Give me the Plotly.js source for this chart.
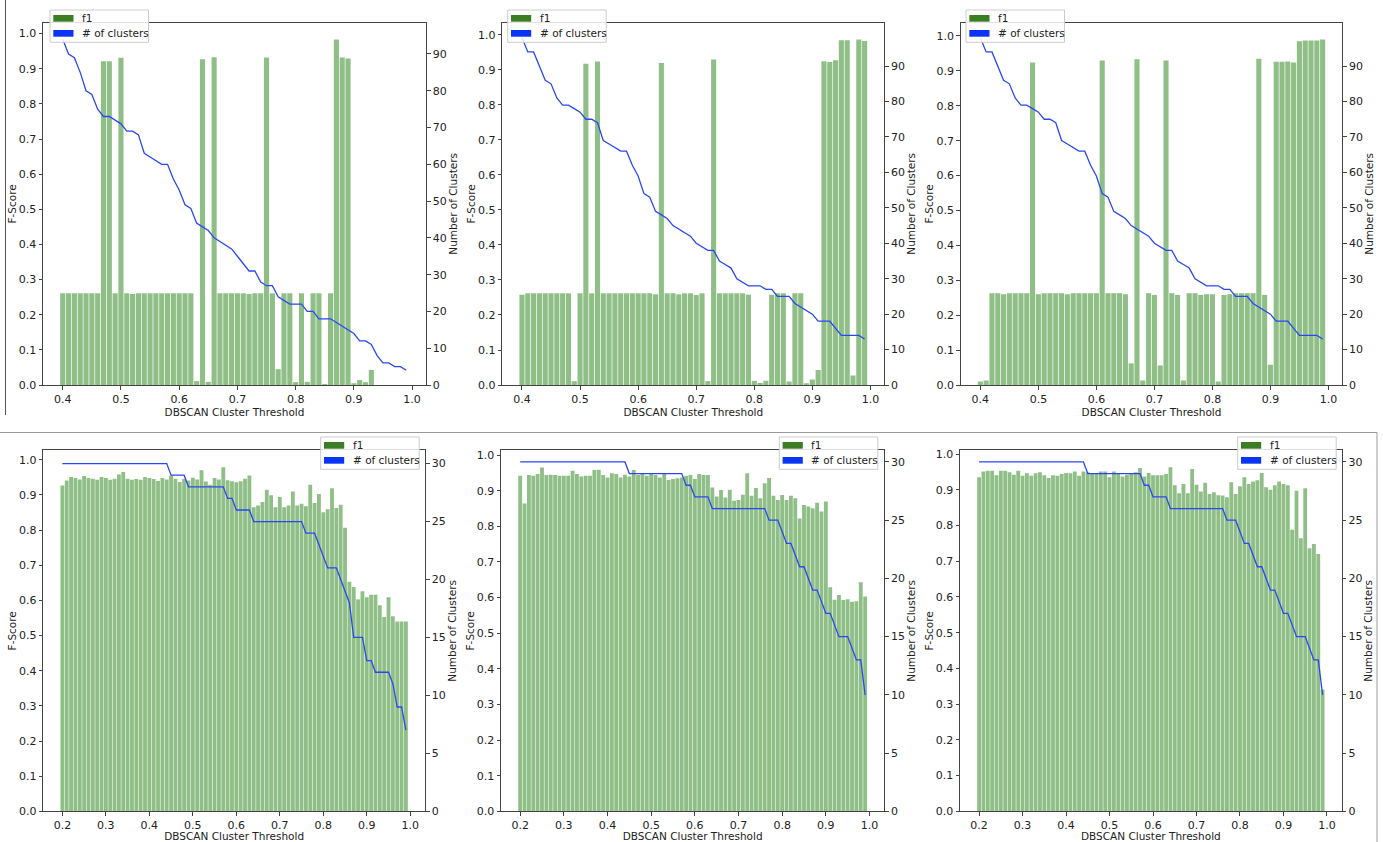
<!DOCTYPE html>
<html><head><meta charset="utf-8">
<script src="https://cdn.plot.ly/plotly-3.0.1.min.js"></script>
<style>html,body{margin:0;padding:0;background:#fff;} #chart{width:1383px;height:842px;}</style>
</head><body><div id="chart"></div>
<script>
// ---------- data ----------
const thresholdsTop = [0.40,0.41,0.42,0.43,0.44,0.45,0.46,0.47,0.48,0.49,0.50,0.51,0.52,0.53,0.54,0.55,0.56,0.57,0.58,0.59,0.60,0.61,0.62,0.63,0.64,0.65,0.66,0.67,0.68,0.69,0.70,0.71,0.72,0.73,0.74,0.75,0.76,0.77,0.78,0.79,0.80,0.81,0.82,0.83,0.84,0.85,0.86,0.87,0.88,0.89,0.90,0.91,0.92,0.93,0.94,0.95,0.96,0.97,0.98,0.99];
const thresholdsBottom = [0.20,0.21,0.22,0.23,0.24,0.25,0.26,0.27,0.28,0.29,0.30,0.31,0.32,0.33,0.34,0.35,0.36,0.37,0.38,0.39,0.40,0.41,0.42,0.43,0.44,0.45,0.46,0.47,0.48,0.49,0.50,0.51,0.52,0.53,0.54,0.55,0.56,0.57,0.58,0.59,0.60,0.61,0.62,0.63,0.64,0.65,0.66,0.67,0.68,0.69,0.70,0.71,0.72,0.73,0.74,0.75,0.76,0.77,0.78,0.79,0.80,0.81,0.82,0.83,0.84,0.85,0.86,0.87,0.88,0.89,0.90,0.91,0.92,0.93,0.94,0.95,0.96,0.97,0.98,0.99];

const f1TopA = [0.261,0.261,0.261,0.261,0.261,0.261,0.261,0.921,0.921,0.261,0.931,0.261,0.259,0.261,0.261,0.261,0.261,0.261,0.261,0.261,0.261,0.261,0.261,0.011,0.927,0.009,0.933,0.261,0.261,0.261,0.261,0.261,0.259,0.261,0.261,0.932,0.261,0.045,0.261,0.261,0.008,0.261,0.009,0.261,0.261,0.003,0.261,0.983,0.932,0.929,0.005,0.014,0.008,0.043,0,0,0,0,0,0];
const f1TopB = [0.258,0.262,0.262,0.262,0.262,0.262,0.262,0.262,0.262,0.011,0.262,0.918,0.262,0.924,0.262,0.262,0.262,0.262,0.262,0.262,0.262,0.262,0.262,0.259,0.920,0.262,0.262,0.259,0.262,0.262,0.257,0.262,0.011,0.930,0.262,0.262,0.262,0.262,0.262,0.258,0.012,0.006,0.012,0.258,0.262,0.262,0.010,0.262,0.262,0.005,0.016,0.043,0.925,0.923,0.928,0.985,0.985,0.027,0.987,0.983];
const f1TopC = [0.010,0.013,0.263,0.263,0.260,0.263,0.263,0.263,0.263,0.924,0.260,0.263,0.263,0.263,0.263,0.260,0.263,0.263,0.263,0.263,0.263,0.930,0.263,0.263,0.263,0.260,0.062,0.933,0.013,0.263,0.258,0.056,0.930,0.263,0.258,0.013,0.263,0.263,0.258,0.260,0.260,0.010,0.258,0.260,0.263,0.263,0.263,0.263,0.935,0.258,0.058,0.926,0.926,0.927,0.924,0.985,0.987,0.987,0.987,0.990];

const clustersTopA = [94,90,89,85,80,79,75,73,73,72,71,69,69,68,63,62,61,60,60,56,53,49,48,44,43,42,40,39,38,37,35,33,31,31,28,27,27,24,23,22,22,22,20,20,18,18,18,17,16,15,14,12,12,11,8,6,6,5,5,4];
const clustersTopB = [98,94,94,90,86,85,81,79,79,78,77,75,75,74,69,68,67,66,66,62,59,54,53,49,48,47,45,44,43,42,40,39,38,38,35,34,33,30,29,28,28,28,27,27,25,25,25,23,22,21,20,18,18,18,16,14,14,14,14,13];
const clustersTopC = [98,94,94,90,86,85,81,79,79,78,77,75,75,74,69,68,67,66,66,62,59,54,53,49,48,47,45,44,43,42,40,39,38,38,35,34,33,30,29,28,28,28,27,27,25,25,25,23,22,21,20,18,18,18,16,14,14,14,14,13];

const f1BotA = [0.927,0.941,0.951,0.948,0.944,0.954,0.948,0.946,0.943,0.951,0.948,0.943,0.946,0.958,0.965,0.946,0.943,0.945,0.943,0.951,0.948,0.945,0.940,0.948,0.944,0.955,0.946,0.937,0.946,0.941,0.949,0.944,0.970,0.938,0.929,0.948,0.944,0.979,0.942,0.939,0.936,0.939,0.946,0.955,0.865,0.870,0.880,0.915,0.899,0.865,0.894,0.865,0.870,0.910,0.870,0.875,0.868,0.929,0.877,0.903,0.851,0.859,0.919,0.863,0.872,0.807,0.653,0.638,0.603,0.626,0.609,0.616,0.616,0.586,0.553,0.609,0.555,0.540,0.540,0.540];
const f1BotB = [0.942,0.864,0.944,0.942,0.947,0.965,0.944,0.945,0.944,0.942,0.942,0.942,0.956,0.947,0.940,0.942,0.942,0.958,0.959,0.944,0.937,0.949,0.947,0.937,0.945,0.940,0.958,0.944,0.949,0.942,0.947,0.944,0.937,0.949,0.930,0.933,0.935,0.937,0.942,0.944,0.933,0.947,0.944,0.944,0.909,0.884,0.902,0.881,0.903,0.872,0.874,0.889,0.949,0.886,0.908,0.879,0.921,0.936,0.886,0.874,0.888,0.874,0.886,0.879,0.822,0.860,0.856,0.851,0.866,0.842,0.870,0.629,0.594,0.607,0.593,0.595,0.588,0.590,0.643,0.603];
const f1BotC = [0.935,0.951,0.953,0.953,0.941,0.953,0.953,0.949,0.942,0.953,0.939,0.946,0.939,0.946,0.949,0.941,0.933,0.941,0.939,0.944,0.947,0.946,0.951,0.939,0.951,0.949,0.947,0.944,0.951,0.951,0.935,0.951,0.944,0.937,0.942,0.947,0.949,0.961,0.937,0.947,0.941,0.941,0.941,0.944,0.963,0.913,0.890,0.916,0.890,0.958,0.914,0.895,0.920,0.888,0.893,0.885,0.884,0.879,0.921,0.888,0.910,0.935,0.916,0.923,0.927,0.947,0.907,0.900,0.913,0.923,0.916,0.913,0.788,0.897,0.764,0.904,0.736,0.748,0.720,0.341];

const clustersBotA = [30,30,30,30,30,30,30,30,30,30,30,30,30,30,30,30,30,30,30,30,30,30,30,30,30,29,29,29,29,28,28,28,28,28,28,28,28,28,27,27,26,26,26,26,25,25,25,25,25,25,25,25,25,25,25,25,24,24,24,23,22,21,21,21,20,19,18,15,15,15,13,13,12,12,12,12,11,9,9,7];
const clustersBotB = [30,30,30,30,30,30,30,30,30,30,30,30,30,30,30,30,30,30,30,30,30,30,30,30,30,29,29,29,29,29,29,29,29,29,29,29,29,29,28,28,27,27,27,27,26,26,26,26,26,26,26,26,26,26,26,26,26,25,25,25,24,23,23,22,21,21,20,19,19,18,17,17,16,15,15,15,14,13,13,10];
const clustersBotC = [30,30,30,30,30,30,30,30,30,30,30,30,30,30,30,30,30,30,30,30,30,30,30,30,30,29,29,29,29,29,29,29,29,29,29,29,29,29,28,28,27,27,27,27,26,26,26,26,26,26,26,26,26,26,26,26,26,25,25,25,24,23,23,22,21,21,20,19,19,18,17,17,16,15,15,15,14,13,13,10];

const xTicksTop = [0.4,0.5,0.6,0.7,0.8,0.9,1.0];
const xTicksBottom = [0.2,0.3,0.4,0.5,0.6,0.7,0.8,0.9,1.0];
const fTicks = [0.0,0.1,0.2,0.3,0.4,0.5,0.6,0.7,0.8,0.9,1.0];
const nTicksTop = [0,10,20,30,40,50,60,70,80,90];
const nTicksBottom = [0,5,10,15,20,25,30];
const legendLabels = ['f1', '# of clusters'];

// ---------- styling / layout ----------
const W = 1383, H = 842;
const BAR = '#8fbf87', LINE = '#2a48f2', LEG_G = '#3b7d23', LEG_B = '#0a35f5';
const AX = '#444', TXT = '#222';

const panels = [
  {x: thresholdsTop, f1: f1TopA, n: clustersTopA, box: [43, 22.7, 426, 385], xr: [0.3661, 1.0239], yl: [0, 1.031], yr: [0, 98.5], xt: xTicksTop, nt: nTicksTop, leg: [50, 10]},
  {x: thresholdsTop, f1: f1TopB, n: clustersTopB, box: [502.3, 22.7, 884.3, 385], xr: [0.3661, 1.0239], yl: [0, 1.035], yr: [0, 102.25], xt: xTicksTop, nt: nTicksTop, leg: [507.7, 10]},
  {x: thresholdsTop, f1: f1TopC, n: clustersTopC, box: [960.7, 22.7, 1342.3, 385], xr: [0.3661, 1.0239], yl: [0, 1.038], yr: [0, 102.25], xt: xTicksTop, nt: nTicksTop, leg: [966, 10]},
  {x: thresholdsBottom, f1: f1BotA, n: clustersBotA, box: [43.3, 450.3, 425, 811.3], xr: [0.1561, 1.0339], yl: [0, 1.027], yr: [0, 31.15], xt: xTicksBottom, nt: nTicksBottom, leg: [320.7, 437]},
  {x: thresholdsBottom, f1: f1BotB, n: clustersBotB, box: [501, 450.3, 884.3, 811.3], xr: [0.1561, 1.0339], yl: [0, 1.0135], yr: [0, 31.0], xt: xTicksBottom, nt: nTicksBottom, leg: [779.3, 437]},
  {x: thresholdsBottom, f1: f1BotC, n: clustersBotC, box: [960, 450.3, 1341.7, 811.3], xr: [0.1561, 1.0339], yl: [0, 1.0105], yr: [0, 31.0], xt: xTicksBottom, nt: nTicksBottom, leg: [1237.7, 437]}
];

const layout = {
  width: W, height: H, margin: {l: 0, r: 0, t: 0, b: 0},
  paper_bgcolor: '#ffffff', plot_bgcolor: 'rgba(0,0,0,0)', showlegend: false,
  font: {family: 'DejaVu Sans, sans-serif', size: 11, color: TXT},
  shapes: [], annotations: []
};
const data = [];
const PX = v => v / W, PY = v => 1 - v / H;

panels.forEach((p, i) => {
  const k = i + 1;
  const xid = k === 1 ? 'x' : 'x' + k;
  const ylNum = 2 * k - 1, yrNum = 2 * k;
  const ylid = ylNum === 1 ? 'y' : 'y' + ylNum;
  const yrid = 'y' + yrNum;
  const [L, T, R, B] = p.box;
  const common = {showgrid: false, zeroline: false, ticks: 'outside', ticklen: 3.5, tickwidth: 1, tickcolor: AX, tickfont: {size: 11, color: TXT}};
  layout[k === 1 ? 'xaxis' : 'xaxis' + k] = Object.assign({}, common, {
    domain: [L / W, R / W], anchor: ylid, range: p.xr, tickvals: p.xt, tickformat: '.1f',
    showline: true, mirror: true, linecolor: AX, linewidth: 1,
    title: {text: 'DBSCAN Cluster Threshold', font: {size: 10.5, color: TXT}, standoff: 0}
  });
  layout[ylNum === 1 ? 'yaxis' : 'yaxis' + ylNum] = Object.assign({}, common, {
    domain: [1 - B / H, 1 - T / H], anchor: xid, range: p.yl, tickvals: fTicks, tickformat: '.1f',
    showline: true, mirror: true, linecolor: AX, linewidth: 1,
    title: {text: 'F-Score', font: {size: 10.5, color: TXT}, standoff: 0}
  });
  layout['yaxis' + yrNum] = Object.assign({}, common, {
    domain: [1 - B / H, 1 - T / H], anchor: xid, overlaying: ylid, side: 'right', range: p.yr, tickvals: p.nt,
    showline: false,
    title: {text: 'Number of Clusters', font: {size: 10.5, color: TXT}, standoff: 2}
  });
  data.push({type: 'bar', x: p.x, y: p.f1, xaxis: xid, yaxis: ylid, width: 0.0088, name: legendLabels[0],
             marker: {color: BAR, line: {width: 0}}});
  data.push({type: 'scatter', mode: 'lines', x: p.x, y: p.n, xaxis: xid, yaxis: yrid, name: legendLabels[1],
             line: {color: LINE, width: 1.3}});

  // matplotlib-style legend box (drawn above the axes)
  const [lx, ly] = p.leg;
  layout.shapes.push({type: 'rect', xref: 'paper', yref: 'paper', layer: 'above',
    x0: PX(lx), x1: PX(lx + 98.5), y0: PY(ly + 32.3), y1: PY(ly),
    fillcolor: 'rgba(255,255,255,0.85)', line: {color: '#cccccc', width: 1}});
  [[LEG_G, 5, 11.7, 8.3], [LEG_B, 20, 26.7, 23.4]].forEach((r, j) => {
    layout.shapes.push({type: 'rect', xref: 'paper', yref: 'paper', layer: 'above',
      x0: PX(lx + 3.3), x1: PX(lx + 23.5), y0: PY(ly + r[2]), y1: PY(ly + r[1]),
      fillcolor: r[0], line: {width: 0}});
    layout.annotations.push({xref: 'paper', yref: 'paper', x: PX(lx + 30), y: PY(ly + r[3]),
      xanchor: 'left', yanchor: 'middle', showarrow: false, text: legendLabels[j],
      font: {size: 10.5, color: TXT}});
  });
});

// screenshot frame remnants
layout.shapes.push({type: 'line', xref: 'paper', yref: 'paper', layer: 'below', x0: PX(5.5), x1: PX(5.5), y0: PY(415), y1: PY(0), line: {color: '#555', width: 1}});
layout.shapes.push({type: 'line', xref: 'paper', yref: 'paper', layer: 'below', x0: 0, x1: PX(1377), y0: PY(432.5), y1: PY(432.5), line: {color: '#999', width: 1}});
layout.shapes.push({type: 'line', xref: 'paper', yref: 'paper', layer: 'below', x0: PX(1377), x1: PX(1377), y0: 0, y1: PY(432.5), line: {color: '#999', width: 1}});

Plotly.newPlot('chart', data, layout, {displayModeBar: false, staticPlot: true});
</script>
</body></html>
